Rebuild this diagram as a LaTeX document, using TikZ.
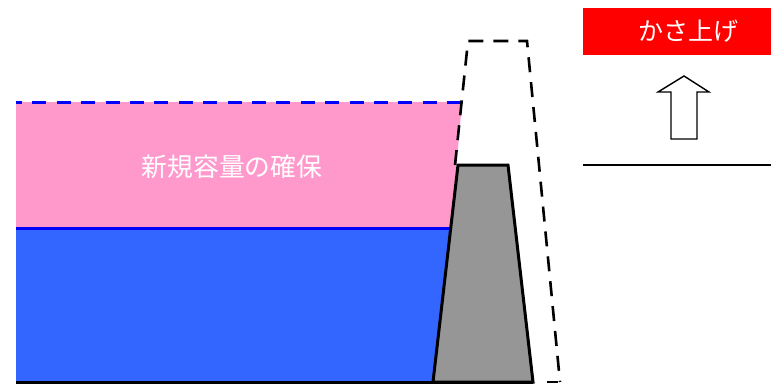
\documentclass[tikz,border=0pt]{standalone}
\usepackage{fontspec}
\newfontfamily\cjk{Noto Sans CJK JP}
\definecolor{pinkfill}{HTML}{FF99CC}
\definecolor{bluefill}{HTML}{3366FF}
\definecolor{bluelineC}{HTML}{0000FF}
\definecolor{grayfill}{HTML}{969696}
\tikzset{
  wlabel/.style={text=white,inner sep=0pt},
  blackdash/.style={line width=2.6pt,dash pattern=on 15pt off 10pt},
}
\begin{document}
\begin{tikzpicture}[x=1pt,y=-1pt]
\useasboundingbox (0,0) rectangle (771,384);
% pink area
\fill[pinkfill] (16,102) -- (462,102) -- (451,228) -- (16,228) -- cycle;
% blue area
\fill[bluefill] (16,228) -- (451,228) -- (433,382) -- (16,382) -- cycle;
% water lines
\draw[bluelineC,line width=3pt] (16,228) -- (451,228);
\draw[bluelineC,line width=3pt,dash pattern=on 14pt off 10.4pt,dash phase=8pt] (16,102) -- (462,102);
% raised dam outline (dashed)
\draw[blackdash,line join=miter] (455,165) -- (468,41) -- (527,41) -- (560,382);
\draw[blackdash] (547,382) -- (558,382);
% existing dam
\draw[fill=grayfill,line width=3pt,line join=miter] (433,382) -- (458,165) -- (508,165) -- (533,382) -- cycle;
% ground line
\draw[line width=3pt] (16,382) -- (533,382);
\node[wlabel,font=\cjk\fontsize{25.8}{28}\selectfont] (cap) at (232,167) {新規容量の確保};
% right panel
\fill[red] (583,8) rectangle (771,55);
\node[wlabel,font=\cjk\fontsize{25}{28}\selectfont] (kasa) at (688,31) {かさ上げ};
\draw[line width=1.4pt] (671,139) -- (671,92) -- (658,92) -- (684,76) -- (709,92) -- (697,92) -- (697,139) -- cycle;
\draw[line width=1.5pt] (583,165) -- (771,165);
\end{tikzpicture}
\end{document}
